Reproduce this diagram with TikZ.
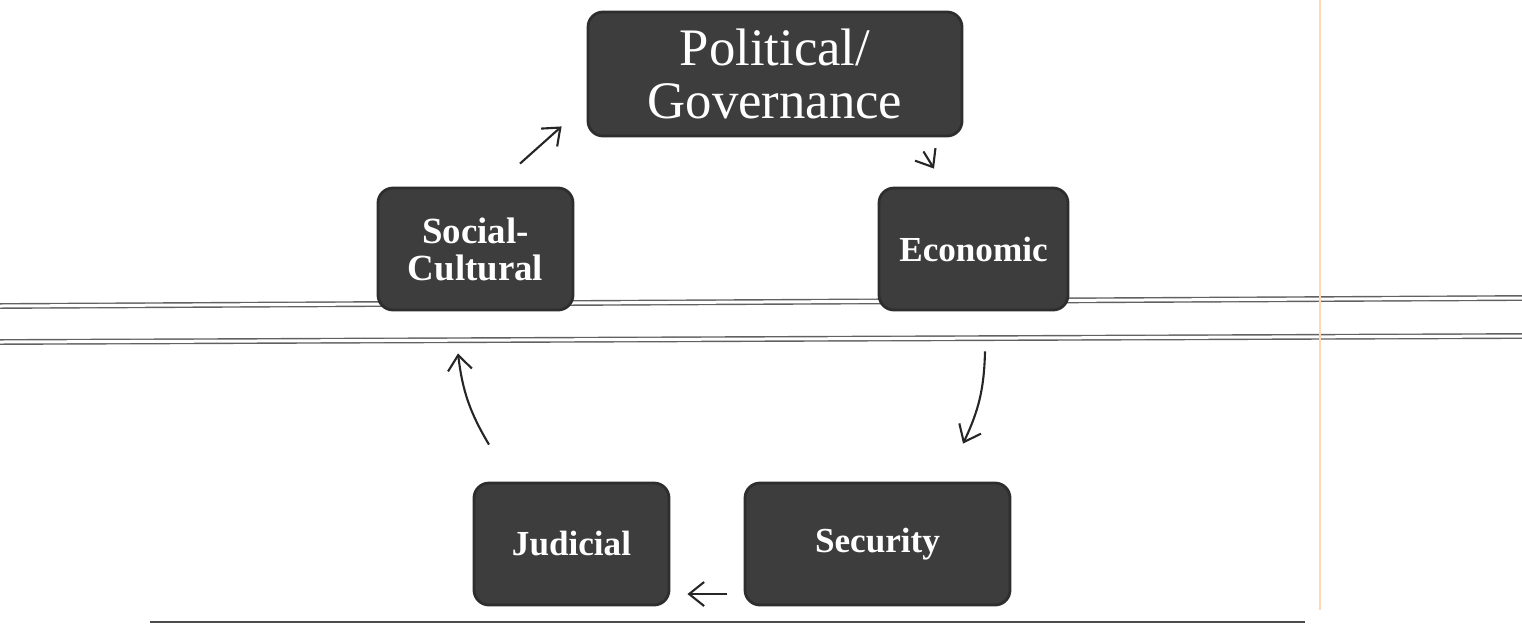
\documentclass[tikz,border=0pt]{standalone}
\usepackage{fontspec}
\setmainfont{Liberation Serif}
\usepackage{tikz}
\usetikzlibrary{arrows.meta}
\usetikzlibrary{positioning}
\tikzset{
    sector/.style={
        draw=black!82,
        fill=black!76,
        rounded corners=1.5mm,
        text=white,
        align=center,
        inner sep=0pt,
        line width=0.8pt,
        font=\bfseries\fontsize{10}{10}\selectfont
    },
    flow/.style={
        draw=black!85,
        line width=0.6pt,
        -{Straight Barb[length=1.5mm, width=2.4mm]}
    },
    rule/.style={
        draw=black!62,
        double,
        double distance=0.3mm,
        line width=0.4pt
    }
}

\begin{document}
\begin{tikzpicture}
    \useasboundingbox (0,0) rectangle (15.22,6.28);
    % Rules
    \draw[rule] (0,3.22) -- (15.22,3.30);
    \draw[rule] (0,2.86) -- (15.22,2.92);
    \draw[black!70, line width=0.5pt] (1.50,0.06) -- (13.05,0.06);
    \draw[orange!30, line width=0.3pt] (13.20,6.28) -- (13.20,0.18);

    % Boxes
    \node[sector, minimum width=3.74cm, minimum height=1.24cm,
        font=\fontsize{15}{15}\selectfont] (pol) at (7.75,5.54) {Political/\\Governance};
    \node[sector, minimum width=1.95cm, minimum height=1.22cm,
        font=\bfseries\fontsize{10.5}{10.5}\selectfont] (soc) at (4.755,3.79) {Social-\\Cultural};
    \node[sector, minimum width=1.89cm, minimum height=1.22cm] (eco) at (9.735,3.79) {Economic};
    \node[sector, minimum width=1.95cm, minimum height=1.22cm] (jud) at (5.715,0.84) {Judicial};
    \node[sector, minimum width=2.65cm, minimum height=1.22cm] (sec) at (8.775,0.84) {Security};

    % Arrows
    \draw[flow] ([shift={(0.445,0.23)}]soc.north) -- ([shift={(-0.25,0.11)}]pol.south west);
    \draw[flow] ([shift={(-0.40,-0.14)}]pol.south east) -- ([shift={(-0.395,0.18)}]eco.north);
    \draw[flow] ([shift={(0.115,-0.40)}]eco.south) to[bend left=12] ([shift={(0.855,0.38)}]sec.north);
    \draw[flow] ([shift={(-0.17,-0.50)}]sec.west) -- ([shift={(0.17,-0.50)}]jud.east);
    \draw[flow] ([shift={(-0.825,0.37)}]jud.north) to[bend left=12] ([shift={(-0.175,-0.42)}]soc.south);
\end{tikzpicture}
\end{document}
